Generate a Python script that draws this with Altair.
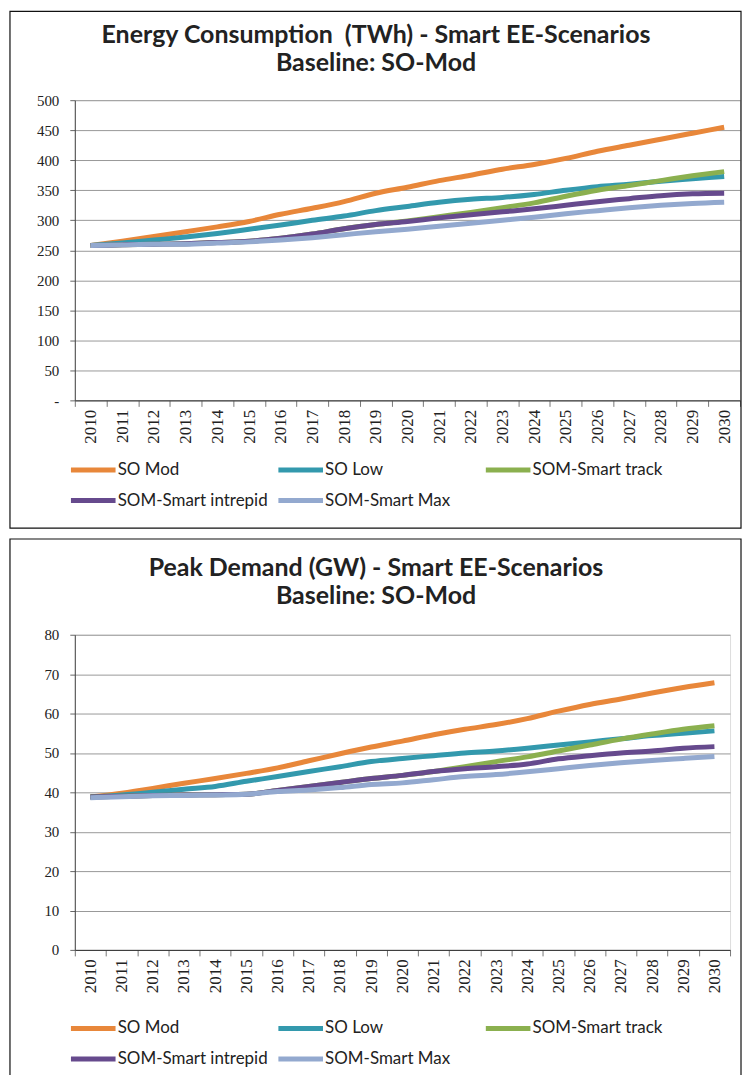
import altair as alt
import pandas as pd

years = list(range(2010, 2031))
series = ["SO Mod", "SO Low", "SOM-Smart track", "SOM-Smart intrepid", "SOM-Smart Max"]
colors = ["#E8873A", "#3399AD", "#8BB04F", "#664A8D", "#93A9CF"]

# Energy consumption (TWh)
energy_so_mod = [258, 265, 273, 281, 289, 298, 310, 320, 331, 345, 355, 366, 375, 385, 393, 403, 415, 425, 435, 445, 455]
energy_so_low = [258, 262, 267, 272, 278, 285, 292, 300, 307, 316, 323, 330, 335, 338, 343, 350, 356, 360, 365, 369, 373]
energy_track = [258, 259, 260, 261, 263, 265, 270, 277, 286, 293, 299, 306, 313, 321, 329, 340, 350, 358, 366, 374, 381]
energy_intrepid = [258, 259, 260, 261, 263, 265, 270, 277, 286, 293, 298, 304, 309, 314, 319, 325, 331, 336, 341, 344, 345]
energy_max = [258, 259, 260, 260, 262, 264, 267, 271, 276, 281, 285, 290, 295, 300, 305, 311, 316, 321, 325, 328, 330]

# Peak demand (GW)
peak_so_mod = [38.8, 39.8, 41.0, 42.3, 43.5, 44.8, 46.2, 48.0, 49.8, 51.5, 53.0, 54.6, 56.0, 57.2, 58.7, 60.6, 62.3, 63.7, 65.2, 66.6, 67.8]
peak_so_low = [38.8, 39.3, 40.0, 40.8, 41.5, 42.8, 44.0, 45.3, 46.5, 47.8, 48.6, 49.3, 50.0, 50.5, 51.2, 52.0, 52.8, 53.6, 54.4, 55.0, 55.6]
peak_track = [38.8, 39.0, 39.2, 39.3, 39.4, 39.5, 40.5, 41.5, 42.5, 43.5, 44.3, 45.3, 46.5, 47.8, 49.0, 50.5, 52.0, 53.5, 54.8, 56.0, 56.9]
peak_intrepid = [38.8, 39.0, 39.2, 39.3, 39.4, 39.5, 40.5, 41.5, 42.5, 43.5, 44.3, 45.3, 46.0, 46.5, 47.2, 48.5, 49.3, 50.0, 50.5, 51.2, 51.6]
peak_max = [38.6, 38.9, 39.1, 39.2, 39.3, 39.5, 40.2, 40.6, 41.2, 42.0, 42.4, 43.2, 44.0, 44.5, 45.2, 46.0, 46.8, 47.5, 48.1, 48.6, 49.1]

energy_title = ["Energy Consumption\u00a0\u00a0(TWh) - Smart EE-Scenarios", "Baseline: SO-Mod"]
peak_title = ["Peak Demand (GW) - Smart EE-Scenarios", "Baseline: SO-Mod"]


def long_df(cols):
    rows = []
    for s, vals in zip(series, cols):
        for y, v in zip(years, vals):
            rows.append({"Year": str(y), "Series": s, "Value": v})
    return pd.DataFrame(rows)


def panel(df, title, ymax, ystep, w, h, box, title_x, title_y, leg_x, leg_y, zero_dash):
    label_expr = "datum.value == 0 ? '-' : datum.label" if zero_dash else "datum.label"
    leg = alt.Legend(title=None, orient="none", legendX=leg_x, legendY=leg_y,
                     columns=3, direction="horizontal", symbolType="M-4,0H4",
                     symbolStrokeWidth=5, symbolSize=125, symbolOffset=17, labelFont="Lato",
                     labelFontSize=17, labelColor="#222", gridAlign="all",
                     columnPadding=0, rowPadding=10, labelOffset=16)
    lines = alt.Chart(df).mark_line(strokeWidth=5, interpolate="monotone").encode(
        x=alt.X("Year:O", bandPosition=0.5, sort=None,
                scale=alt.Scale(type="band", paddingInner=0, paddingOuter=0),
                axis=alt.Axis(title=None, tickBand="extent", labelAngle=-90, labelAlign="right",
                              labelBaseline="middle", labelFont="Liberation Serif", labelFontSize=17,
                              labelColor="#222", labelPadding=3, domainColor="#333", tickColor="#777",
                              tickSize=6, grid=False)),
        y=alt.Y("Value:Q", scale=alt.Scale(domain=[0, ymax], nice=False),
                axis=alt.Axis(title=None, values=list(range(0, ymax + 1, ystep)), labelExpr=label_expr,
                              labelFont="Liberation Serif", labelFontSize=15, labelColor="#222",
                              labelPadding=11, domainColor="#444", tickColor="#666", tickSize=5,
                              grid=True, gridColor="#999", gridWidth=1)),
        color=alt.Color("Series:N", sort=series, scale=alt.Scale(domain=series, range=colors),
                        legend=leg),
        order=alt.Order("sidx:Q"),
    ).transform_calculate(
        sidx="indexof(" + str(series) + ", datum.Series)"
    )
    border = alt.Chart(pd.DataFrame({"b": [1]})).mark_rect(fill=None, stroke="#111", strokeWidth=1.2).encode(
        x=alt.value(box[0]), x2=alt.value(box[1]), y=alt.value(box[2]), y2=alt.value(box[3]))
    t1 = alt.Chart(pd.DataFrame({"t": [title[0]]})).mark_text(
        font="Lato", fontSize=25, fontWeight="bold", color="#222", align="center", baseline="middle"
    ).encode(text="t:N", x=alt.value(title_x), y=alt.value(title_y[0]))
    t2 = alt.Chart(pd.DataFrame({"t": [title[1]]})).mark_text(
        font="Lato", fontSize=25, fontWeight="bold", color="#222", align="center", baseline="middle"
    ).encode(text="t:N", x=alt.value(title_x), y=alt.value(title_y[1]))
    return alt.layer(border, lines, t1, t2).properties(width=w, height=h)


top = panel(long_df([energy_so_mod, energy_so_low, energy_track, energy_intrepid, energy_max]),
            energy_title, 500, 50, 667, 301,
            (-65, 668, -89, 429), 302, (-65, -37), -7, 362, True)
bottom = panel(long_df([peak_so_mod, peak_so_low, peak_track, peak_intrepid, peak_max]),
               peak_title, 80, 10, 657, 316,
               (-65, 668, -96, 443), 302, (-67, -39), -7, 386, False)

chart = alt.vconcat(top, bottom, spacing=7).resolve_scale(
    color="independent"
).properties(
    padding={"left": 8, "top": 8, "right": 0, "bottom": 0}
).configure_view(stroke="#888", strokeWidth=1).configure(background="white")

chart.save("out.html", embed_options={"renderer": "svg", "actions": False})
